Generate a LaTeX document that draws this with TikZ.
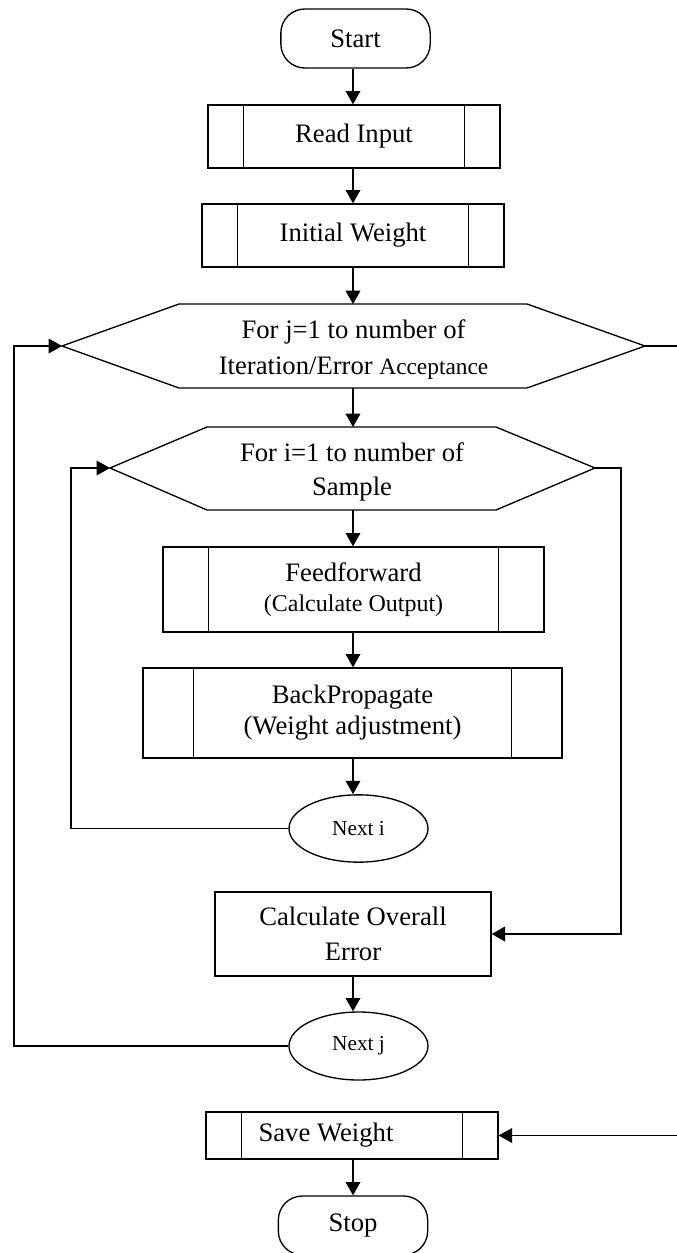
\documentclass[tikz,border=0pt]{standalone}
\usepackage{fontspec}
\setmainfont{Liberation Serif}
\usetikzlibrary{arrows.meta,shapes.geometric,calc}
\newcommand\subprocbars[2]{\draw ([xshift=#2]#1.north west) -- ([xshift=#2]#1.south west) ([xshift=-#2]#1.north east) -- ([xshift=-#2]#1.south east);}
\begin{document}
\begin{tikzpicture}[x=0.75pt,y=-0.75pt,line width=1pt,
  arr/.style={-{Triangle[length=10pt,width=11pt]}},
  base/.style={draw,inner sep=0pt,align=center,font=\fontsize{20}{26}\selectfont},
  term/.style={base,rectangle,rounded corners=18pt,minimum width=112pt,minimum height=44.25pt},
  proc/.style={base,rectangle},
  oval/.style={base,ellipse,minimum width=104.25pt,minimum height=50.5pt,font=\fontsize{16}{19}\selectfont},
  txt/.style={inner sep=0pt,align=center}]
\useasboundingbox (0,0) rectangle (677,1253);

% nodes
\node[term] (start) at (355.5,38.5) {Start};
\node[proc,minimum width=219pt,minimum height=47.25pt] (read) at (354,136.5) {Read Input};
\subprocbars{read}{27pt}
\node[proc,minimum width=226.5pt,minimum height=47.25pt] (init) at (353,235.5) {Initial Weight};
\subprocbars{init}{27pt}

% hexagon 1
\coordinate (h1T) at (353,304);
\coordinate (h1B) at (353,388);
\coordinate (h1L) at (62,346);
\coordinate (h1R) at (645,346);
\draw (179,304) -- (527,304) -- (h1R) -- (527,388) -- (179,388) -- (h1L) -- cycle;
\node[txt,font=\fontsize{20}{27}\selectfont] (h1) at (353.5,350) {For j=1 to number of\\Iteration/Error {\fontsize{17.5}{20}\selectfont Acceptance}};

% hexagon 2
\coordinate (h2T) at (353,427);
\coordinate (h2B) at (353,510);
\coordinate (h2L) at (110,468);
\coordinate (h2R) at (595,468);
\draw (207,427) -- (496,427) -- (h2R) -- (496,510) -- (207,510) -- (h2L) -- cycle;
\node[txt,font=\fontsize{20}{26}\selectfont] (h2) at (352,472) {For i=1 to number of\\Sample};

\node[proc,minimum width=285.75pt,minimum height=63.75pt,font=\fontsize{20}{22.5}\selectfont] (ff) at (353.5,589.5) {Feedforward\\{\fontsize{18}{20}\selectfont (Calculate Output)}};
\subprocbars{ff}{34.5pt}
\node[proc,minimum width=314.25pt,minimum height=67.5pt,font=\fontsize{20}{23.25}\selectfont] (bp) at (352.5,713) {BackPropagate\\(Weight adjustment)};
\subprocbars{bp}{38.25pt}
\node[oval] (nexti) at (358.5,828.5) {Next i};
\node[proc,minimum width=207pt,minimum height=63pt] (calc) at (353,934) {Calculate Overall\\Error};
\node[oval,minimum height=51pt] (nextj) at (358.5,1046) {Next j};
\node[proc,minimum width=219pt,minimum height=35.25pt] (save) at (352,1135.5) {Save Weight\hspace*{39pt}};
\subprocbars{save}{27pt}
\node[term] (stop) at (353,1225.5) {Stop};

% loop corners
\coordinate (xo) at (14,0);
\coordinate (xi) at (71,0);
\coordinate (xr) at (621,0);
\coordinate (xe) at (680,0);

% connectors
\draw[arr] (start.south -| h1T) -- (h1T |- read.north);
\draw[arr] (read.south -| h1T) -- (h1T |- init.north);
\draw[arr] (init.south -| h1T) -- (h1T);
\draw[arr] (h1B) -- (h2T);
\draw[arr] (h2B) -- (h2B |- ff.north);
\draw[arr] (ff.south -| h2B) -- (h2B |- bp.north);
\draw[arr] (bp.south -| h2B) -- (h2B |- nexti.north);
\draw[arr] (nexti.west) -| (xi |- h2L) -- (h2L);
\draw[arr] (h2R) -| (xr |- calc.east) -- (calc.east);
\draw[arr] (calc.south -| h2B) -- (h2B |- nextj.north);
\draw[arr] (nextj.west) -| (xo |- h1L) -- (h1L);
\draw[arr] (h1R) -| (xe |- save.east) -- (save.east);
\draw[arr] (save.south -| h2B) -- (h2B |- stop.north);
\end{tikzpicture}
\end{document}
